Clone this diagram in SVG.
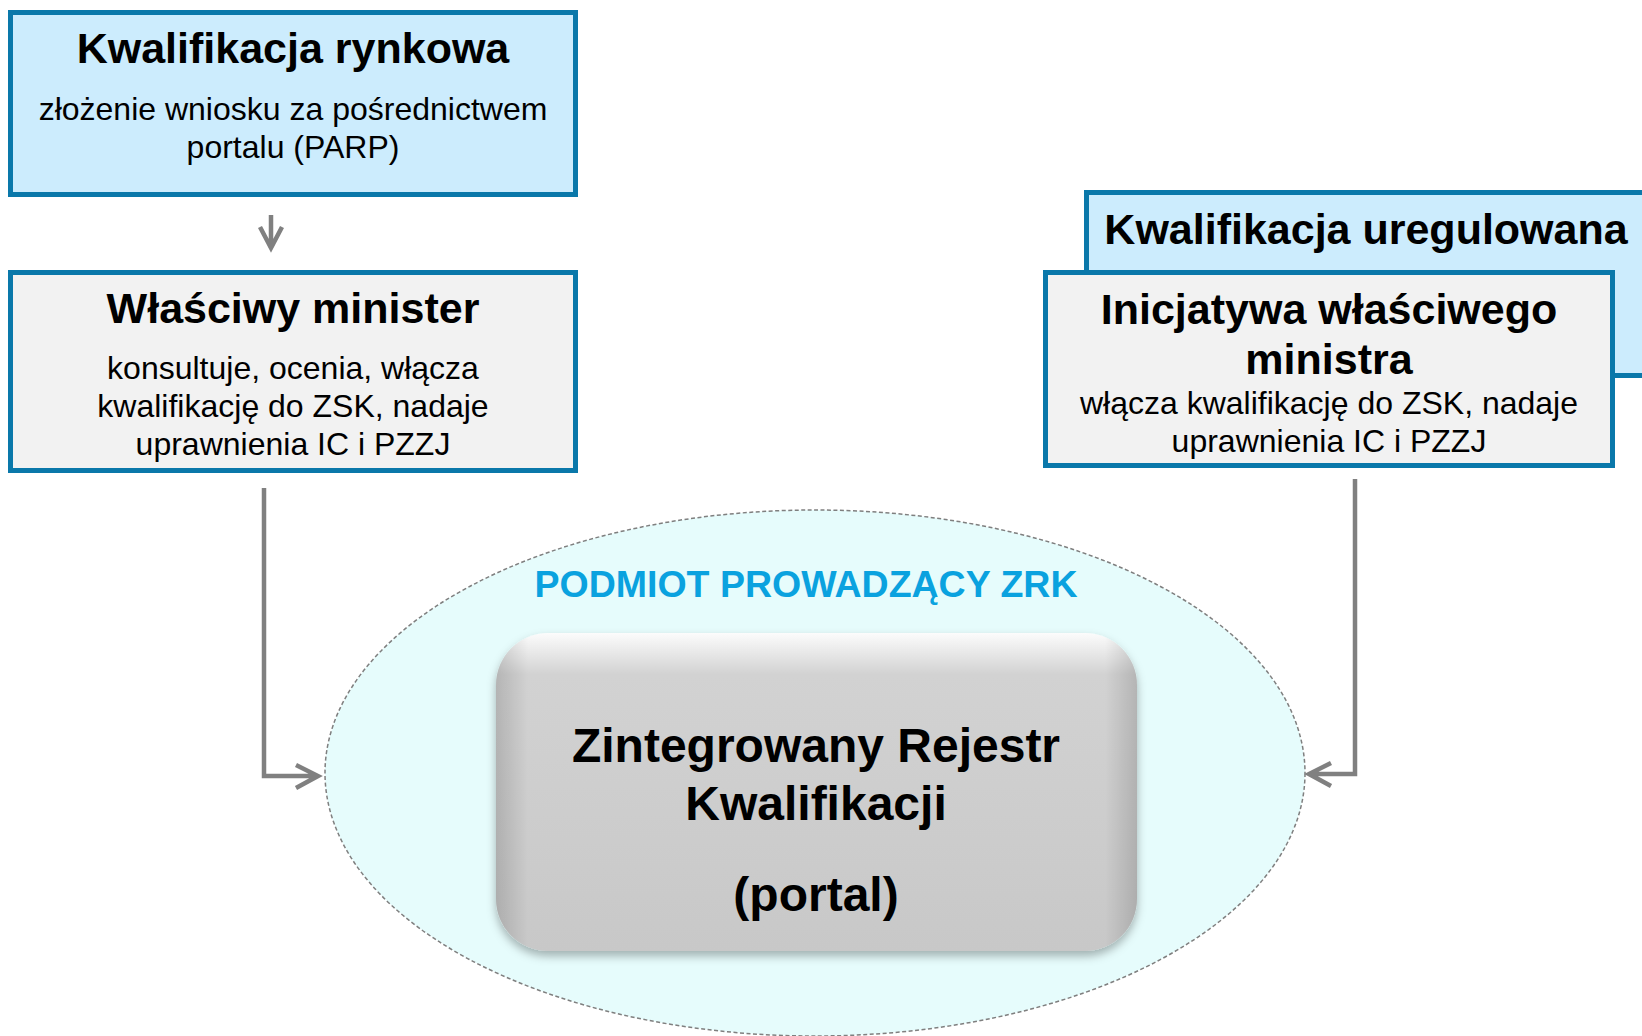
<svg xmlns="http://www.w3.org/2000/svg" width="1642" height="1036" viewBox="0 0 1642 1036">
<style>
.box{stroke:#0A78AA;stroke-width:5}
.blue{fill:#CCECFD}
.gray{fill:#F2F2F2}
text{font-family:"Liberation Sans",Arial,sans-serif;fill:#000;text-anchor:middle}
.t{font-size:43px;font-weight:bold}
.b{font-size:32px}
.c{fill:none;stroke:#808080;stroke-width:4.5;stroke-linejoin:miter}
</style>
<defs>
<linearGradient id="g" x1="0" y1="0" x2="0" y2="1">
<stop offset="0" stop-color="#FCFCFC"/>
<stop offset="0.13" stop-color="#D2D2D2"/>
<stop offset="1" stop-color="#C8C8C8"/>
</linearGradient>
<linearGradient id="gh" x1="0" y1="0" x2="1" y2="0">
<stop offset="0" stop-color="#000" stop-opacity="0.14"/>
<stop offset="0.05" stop-color="#000" stop-opacity="0"/>
<stop offset="0.95" stop-color="#000" stop-opacity="0"/>
<stop offset="1" stop-color="#000" stop-opacity="0.14"/>
</linearGradient>
<filter id="sh" x="-10%" y="-10%" width="120%" height="125%">
<feDropShadow dx="0" dy="5" stdDeviation="5" flood-color="#000" flood-opacity="0.3"/>
</filter>
</defs>
<rect width="1642" height="1036" fill="#fff"/>

<g id="zrk-ellipse">
<ellipse cx="815" cy="773" rx="490" ry="263" fill="#E6FCFC" stroke="#7F7F7F" stroke-width="1.5" stroke-dasharray="4 2.5"/>
<text x="806" y="597" font-size="37.5" font-weight="bold" style="fill:#0AA2DF">PODMIOT PROWADZĄCY ZRK</text>
</g>

<g id="rejestr">
<rect x="496" y="633" width="641" height="318" rx="52" ry="52" fill="url(#g)" filter="url(#sh)"/>
<rect x="496" y="633" width="641" height="318" rx="52" ry="52" fill="url(#gh)"/>
<text class="t" x="816" y="762" style="font-size:48px">Zintegrowany Rejestr</text>
<text class="t" x="816" y="820" style="font-size:48px">Kwalifikacji</text>
<text class="t" x="816" y="911" style="font-size:48px">(portal)</text>
</g>

<g id="kwalifikacja-rynkowa">
<rect class="box blue" x="10.5" y="12.5" width="565" height="182"/>
<text class="t" x="293" y="63">Kwalifikacja rynkowa</text>
<text class="b" x="293" y="119.5">złożenie wniosku za pośrednictwem</text>
<text class="b" x="293" y="158">portalu (PARP)</text>
</g>

<g id="wlasciwy-minister">
<rect class="box gray" x="10.5" y="272.5" width="565" height="198"/>
<text class="t" x="293" y="322.5">Właściwy minister</text>
<text class="b" x="293" y="379">konsultuje, ocenia, włącza</text>
<text class="b" x="293" y="417">kwalifikację do ZSK, nadaje</text>
<text class="b" x="293" y="455">uprawnienia IC i PZZJ</text>
</g>

<g id="kwalifikacja-uregulowana">
<rect class="box blue" x="1086.5" y="192.5" width="563" height="183"/>
<text class="t" x="1366" y="244">Kwalifikacja uregulowana</text>
</g>

<g id="inicjatywa">
<rect class="box gray" x="1045.5" y="272.5" width="567" height="193"/>
<text class="t" x="1329" y="323.5">Inicjatywa właściwego</text>
<text class="t" x="1329" y="374">ministra</text>
<text class="b" x="1329" y="413.5">włącza kwalifikację do ZSK, nadaje</text>
<text class="b" x="1329" y="452">uprawnienia IC i PZZJ</text>
</g>

<g id="connectors">
<path class="c" d="M271 215 V248 M260 227 L271 248 L282 227"/>
<path class="c" d="M264 488 V776 H318 M296 765 L318 776 L296 788"/>
<path class="c" d="M1355 479 V774 H1309 M1331 763 L1309 774 L1331 786"/>
</g>
</svg>
